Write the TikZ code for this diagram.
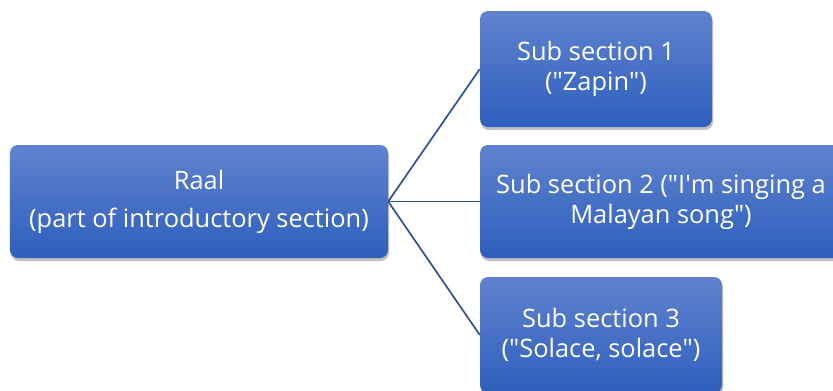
\documentclass[tikz,border=0pt]{standalone}
\usepackage{fontspec}
\setmainfont{Open Sans}
\usepackage{xcolor}
\usetikzlibrary{shadows}

\definecolor{boxtop}{RGB}{96,130,206}
\definecolor{boxbottom}{RGB}{46,95,189}
\definecolor{linkblue}{RGB}{47,82,148}

\begin{document}
\begin{tikzpicture}[x=1bp, y=-1bp]
\tikzstyle{section} = [rectangle, rounded corners=8bp, text=white, align=center, inner sep=0pt,
  top color=boxtop, bottom color=boxbottom, draw=none,
  drop shadow={shadow xshift=1bp, shadow yshift=-3bp, opacity=0.35, fill=black!70},
  font=\fontsize{25.5}{30}\selectfont]
\tikzstyle{link} = [draw=linkblue, line width=1.7bp]

\clip (0,0) rectangle (833,390);
\useasboundingbox (0,0) rectangle (833,390);

% Main section
\node[section, minimum width=378bp, minimum height=113bp] (raal) at (199,201.5)
  {Raal\\[8bp](part of introductory section)};

% Sub sections
\node[section, minimum width=232bp, minimum height=116bp] (sub1) at (596,69)
  {Sub section 1\\(\textquotedbl Zapin\textquotedbl)};
\node[section, minimum width=362bp, minimum height=113bp] (sub2) at (661,201.5)
  {Sub section 2 (\textquotedbl I\textquotesingle m singing a\\Malayan song\textquotedbl)};
\node[section, minimum width=242bp, minimum height=116bp] (sub3) at (601,335)
  {Sub section 3\\(\textquotedbl Solace, solace\textquotedbl)};

% Connections
\draw[link] (raal.east) -- (sub1.west);
\draw[link] (raal.east) -- (sub2.west);
\draw[link] (raal.east) -- (sub3.west);
\end{tikzpicture}
\end{document}
